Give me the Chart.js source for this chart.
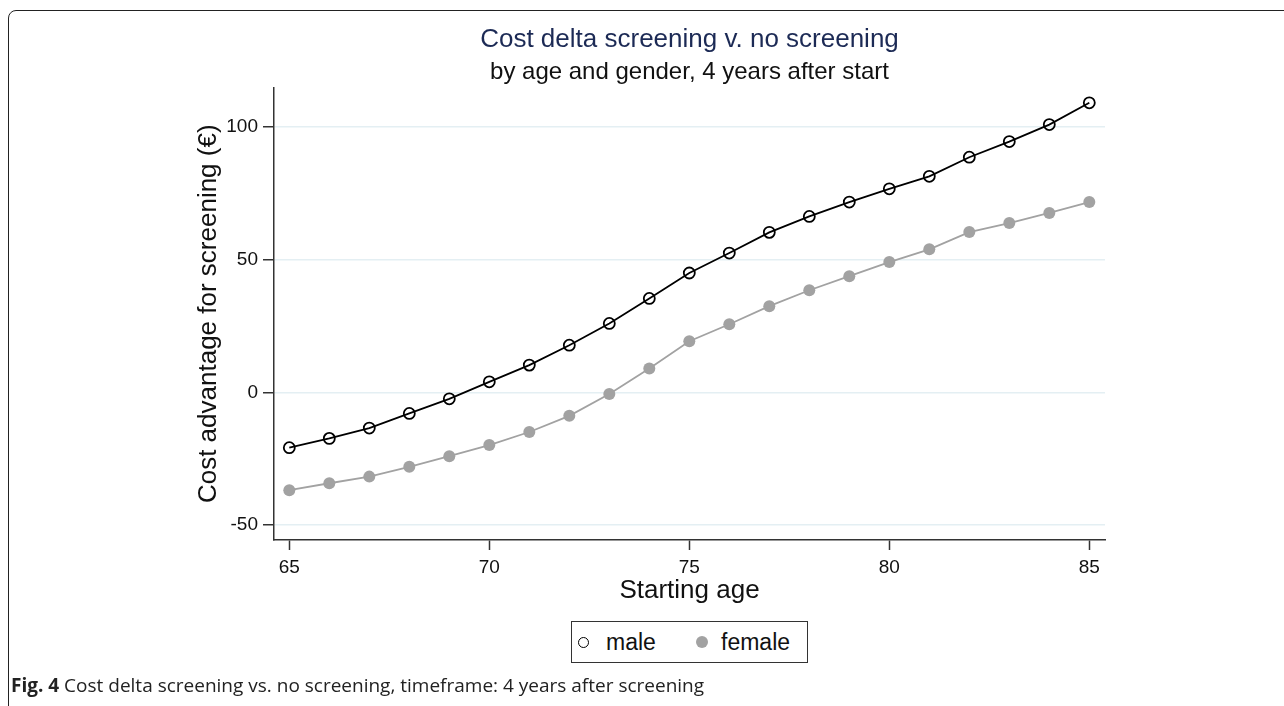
<!DOCTYPE html>
<html>
<head>
<meta charset="utf-8">
<script src="https://cdn.jsdelivr.net/npm/chart.js@4.4.1/dist/chart.umd.min.js"></script>
<style>
  html, body { margin: 0; padding: 0; background: #fff; }
  body { width: 1284px; height: 706px; position: relative; overflow: hidden; }
  #frame { position: absolute; left: 8px; top: 10px; width: 1400px; height: 800px;
           border: 1.5px solid #222; border-radius: 8px; box-sizing: border-box; }
  #wrap { position: absolute; left: 0; top: 0; width: 1284px; height: 706px; }
  #legend { position: absolute; left: 571px; top: 621px; width: 237px; height: 42px;
            border: 1.5px solid #333; box-sizing: border-box; background: #fff;
            font-family: "Liberation Sans", Arial, sans-serif; font-size: 23px; color: #111; }
  #legend .item { position: absolute; top: 0; height: 40px; line-height: 40px; }
  #legend .mk { position: absolute; border-radius: 50%; box-sizing: border-box; }
  #caption { position: absolute; left: 11px; top: 672px; font-family: "Open Sans", sans-serif;
             font-size: 19px; color: #222; white-space: nowrap; }
  #caption b { font-weight: 700; }
</style>
</head>
<body>
<div id="frame"></div>
<div id="wrap"><canvas id="c" width="1284" height="706"></canvas></div>
<div id="legend">
  <div class="mk" style="left:6px;top:15px;width:11px;height:11px;border:1.8px solid #000;"></div>
  <div class="item" style="left:34px;">male</div>
  <div class="mk" style="left:124px;top:14px;width:12px;height:12px;background:#a2a2a2;"></div>
  <div class="item" style="left:149px;">female</div>
</div>
<div id="caption"><b>Fig. 4</b> Cost delta screening vs. no screening, timeframe: 4 years after screening</div>
<script>
const ages = [65,66,67,68,69,70,71,72,73,74,75,76,77,78,79,80,81,82,83,84,85];
const male = [-20.8,-17.3,-13.4,-7.9,-2.4,4.0,10.3,17.8,26.0,35.4,45.0,52.5,60.3,66.3,71.7,76.7,81.4,88.6,94.5,100.9,109.1];
const female = [-36.8,-34.2,-31.7,-28.0,-24.0,-19.8,-14.9,-8.8,-0.6,9.0,19.3,25.7,32.5,38.5,43.8,49.1,53.9,60.4,63.8,67.6,71.7];
const xTicks = [65,70,75,80,85];
const yTicks = [-50,0,50,100];
const seriesNames = ['male','female'];
const titleText = 'Cost delta screening v. no screening';
const subtitleText = 'by age and gender, 4 years after start';
const xTitle = 'Starting age';
const yTitle = 'Cost advantage for screening (\u20AC)';

const toPts = arr => ages.map((a, i) => ({x: a, y: arr[i]}));
const FONT = '"Liberation Sans", Arial, sans-serif';

new Chart(document.getElementById('c'), {
  type: 'line',
  data: {
    datasets: [
      { label: seriesNames[0], data: toPts(male), borderColor: '#000', borderWidth: 1.8,
        pointRadius: 5.5, pointBorderWidth: 1.8, pointBorderColor: '#000',
        pointBackgroundColor: 'rgba(0,0,0,0)', tension: 0, order: 0 },
      { label: seriesNames[1], data: toPts(female), borderColor: '#a2a2a2', borderWidth: 1.8,
        pointRadius: 6, pointBorderWidth: 0, pointBackgroundColor: '#a2a2a2',
        tension: 0, order: 1 }
    ]
  },
  options: {
    responsive: false,
    devicePixelRatio: 1,
    animation: false,
    layout: { padding: { left: 190, right: 179, top: 0, bottom: 96 } },
    plugins: {
      legend: { display: false },
      tooltip: { enabled: false },
      title: { display: true, text: titleText, color: '#1c2a55', fullSize: false,
               font: { family: FONT, size: 26, weight: 'normal' }, padding: { top: 24, bottom: 3 } },
      subtitle: { display: true, text: subtitleText, color: '#111', fullSize: false,
                  font: { family: FONT, size: 24, weight: 'normal' }, padding: { top: 0, bottom: 0.5 } }
    },
    scales: {
      x: {
        type: 'linear', min: 64.6175, max: 85.3925,
        afterBuildTicks: ax => { ax.ticks = xTicks.map(v => ({value: v})); },
        afterFit: ax => { ax.height = 70; },
        grid: { drawOnChartArea: false, drawTicks: true, tickLength: 10, tickColor: '#333', tickWidth: 1.5 },
        border: { display: true, color: '#333', width: 1.5 },
        ticks: { color: '#111', font: { family: FONT, size: 19 }, padding: 6, maxRotation: 0 },
        title: { display: true, text: xTitle, color: '#111', font: { family: FONT, size: 26 }, padding: { top: 0, bottom: 3.4 } }
      },
      y: {
        type: 'linear', min: -55.57, max: 114.86,
        afterBuildTicks: ax => { ax.ticks = yTicks.map(v => ({value: v})); },
        afterFit: ax => { ax.width = 84; },
        grid: { color: '#e4eff3', lineWidth: 1.5, drawTicks: true, tickLength: 11, tickColor: '#333', tickWidth: 1.5 },
        border: { display: true, color: '#333', width: 1.5 },
        ticks: { color: '#111', font: { family: FONT, size: 19 }, padding: 5 },
        title: { display: true, text: yTitle, color: '#111', font: { family: FONT, size: 26 }, padding: { top: 3.4, bottom: 0 } }
      }
    }
  }
});
</script>
</body>
</html>
